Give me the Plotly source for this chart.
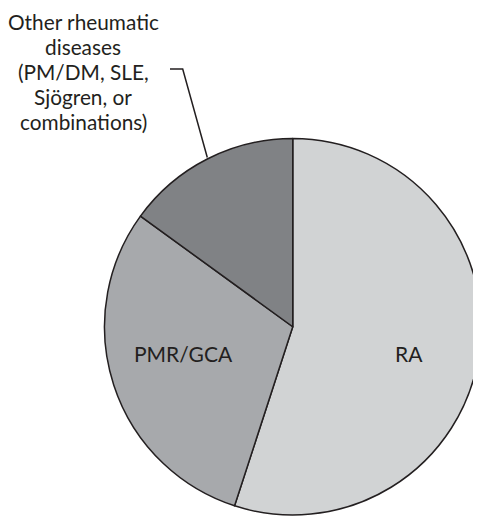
import plotly.graph_objects as go

# Data
categories = ["RA", "PMR/GCA", "Other rheumatic diseases (PM/DM, SLE, Sjögren, or combinations)"]
values = [55, 30, 15]
colors = ["#d1d3d4", "#a7a9ac", "#808285"]
other_label_lines = ["Other rheumatic", "diseases", "(PM/DM, SLE,", "Sjögren, or", "combinations)"]

# The page body has an 8px margin, so the figure is sized to fill the rest of the window.
OFF = 8
W, H = 481 - OFF, 518 - OFF
INK = "#231f20"
FONT = "Lato"

def px(x):
    return (x - OFF) / W

def py(y):
    return 1 - (y - OFF) / H

fig = go.Figure(
    go.Pie(
        labels=categories,
        values=values,
        sort=False,
        direction="clockwise",
        rotation=0,
        marker=dict(colors=colors, line=dict(color=INK, width=1.5)),
        textinfo="none",
        hoverinfo="label+percent",
        showlegend=False,
        domain=dict(x=[px(104.5), 1.0], y=[py(516), py(137.5)]),
    )
)

annotations = [
    dict(text=categories[0], x=px(408.5), y=py(353), xref="paper", yref="paper",
         showarrow=False, xanchor="center", yanchor="middle",
         font=dict(family=FONT, size=21, color=INK)),
    dict(text=categories[1], x=px(183.5), y=py(353), xref="paper", yref="paper",
         showarrow=False, xanchor="center", yanchor="middle",
         font=dict(family=FONT, size=21, color=INK)),
]
for i, line in enumerate(other_label_lines):
    annotations.append(
        dict(text=line, x=px(83), y=py(21 + i * 25.25), xref="paper", yref="paper",
             showarrow=False, xanchor="center", yanchor="middle",
             font=dict(family=FONT, size=20.8, color=INK))
    )

shapes = [
    dict(type="path", xref="paper", yref="paper",
         path=f"M {px(170)},{py(69)} L {px(182.7)},{py(69)} L {px(207.3)},{py(157.5)}",
         line=dict(color=INK, width=1.5)),
]

fig.update_layout(
    width=W, height=H,
    margin=dict(l=0, r=0, t=0, b=0),
    paper_bgcolor="white",
    plot_bgcolor="white",
    annotations=annotations,
    shapes=shapes,
)

fig.write_html("out.html")
